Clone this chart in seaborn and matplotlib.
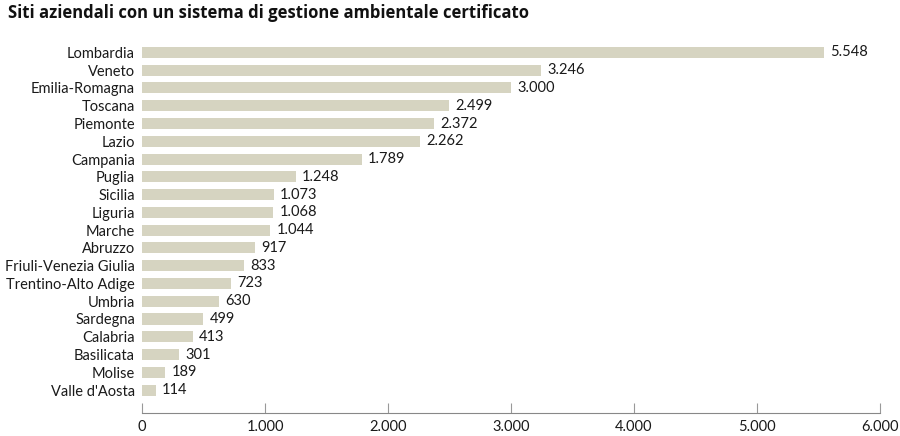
import matplotlib
matplotlib.use("Agg")
import matplotlib.pyplot as plt
import seaborn as sns
import pandas as pd

regions = ["Lombardia", "Veneto", "Emilia-Romagna", "Toscana", "Piemonte", "Lazio",
           "Campania", "Puglia", "Sicilia", "Liguria", "Marche", "Abruzzo",
           "Friuli-Venezia Giulia", "Trentino-Alto Adige", "Umbria", "Sardegna",
           "Calabria", "Basilicata", "Molise", "Valle d'Aosta"]
values = [5548, 3246, 3000, 2499, 2372, 2262, 1789, 1248, 1073, 1068, 1044, 917,
          833, 723, 630, 499, 413, 301, 189, 114]
x_ticks = [0, 1000, 2000, 3000, 4000, 5000, 6000]
x_tick_labels = ["0", "1.000", "2.000", "3.000", "4.000", "5.000", "6.000"]
title = "Siti aziendali con un sistema di gestione ambientale certificato"

df = pd.DataFrame({"regione": regions, "valore": values})

sns.set_theme(style="white")
plt.rcParams["font.family"] = ["Lato", "DejaVu Sans"]

fig = plt.figure(figsize=(9, 4.36), dpi=100)
ax = fig.add_axes([142 / 900, 1 - 413 / 436, (880 - 142) / 900, (413 - 40) / 436])

bar_color = "#d6d4c1"
sns.barplot(data=df, y="regione", x="valore", orient="h", color=bar_color,
            width=0.62, saturation=1, ax=ax, edgecolor="none")

def fmt(v):
    return f"{v:,}".replace(",", ".")

for i, v in enumerate(values):
    ax.text(v + 50, i, fmt(v), va="center", ha="left", fontsize=10.5, color="#1a1a1a")

ax.set_xlim(0, 6000)
ax.set_ylim(19 + 1.29, -0.7)
ax.set_xticks(x_ticks)
ax.set_xticklabels(x_tick_labels, fontsize=10.5, color="#1a1a1a")
ax.tick_params(axis="x", bottom=True, direction="in", length=7, width=0.8,
               color="#999999", pad=5)
ax.tick_params(axis="y", left=False, length=0, pad=5, labelsize=10.5, labelcolor="#1a1a1a")
ax.set_xlabel("")
ax.set_ylabel("")
for s in ["top", "right", "left"]:
    ax.spines[s].set_visible(False)
ax.spines["bottom"].set_color("#888888")
ax.spines["bottom"].set_linewidth(0.8)

fig.text(8 / 900, 1 - 13 / 436, title, fontsize=12, fontweight="bold",
         family=["Open Sans", "DejaVu Sans"],
         ha="left", va="center", color="#111111")

fig.savefig("out.png", dpi=100)
